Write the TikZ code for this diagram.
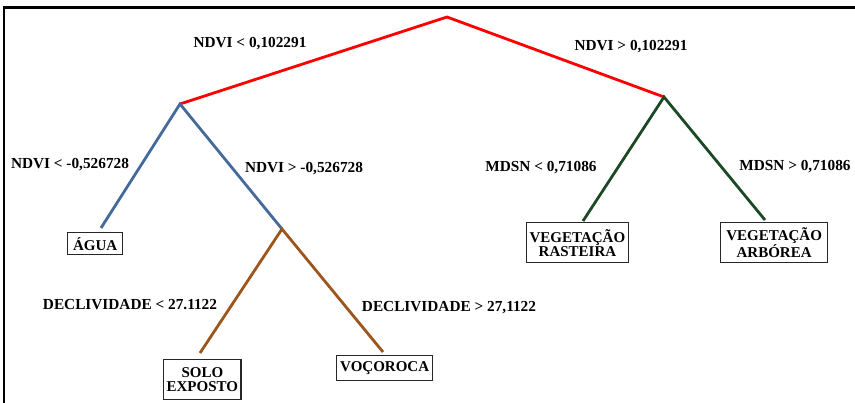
\documentclass[tikz,border=0pt]{standalone}
\usepackage{fontspec}
\setmainfont{Liberation Serif}
\begin{document}
\begin{tikzpicture}[x=1pt,y=-1pt,
  lbl/.style={font=\bfseries\fontsize{15.3}{16}\selectfont, inner sep=0pt, anchor=center},
  leaf/.style={draw=black!85, line width=1.3pt, font=\bfseries\fontsize{15}{14}\selectfont, align=center, inner xsep=3pt, inner ysep=2pt, anchor=north west},
  redl/.style={draw={rgb,255:red,255;green,0;blue,0}, line width=2.8pt},
  bluel/.style={draw={rgb,255:red,68;green,106;blue,155}, line width=2.8pt},
  brownl/.style={draw={rgb,255:red,156;green,86;blue,28}, line width=2.8pt},
  greenl/.style={draw={rgb,255:red,28;green,72;blue,36}, line width=2.8pt},
  frame/.style={draw=black, line width=2.6pt}]
\useasboundingbox (0,0) rectangle (855,403);
% frame
\coordinate (f1) at (855,7.5);
\coordinate (f2) at (4,7.5);
\coordinate (f3) at (4,403);
\draw[frame] (f1) -- (f2) -- (f3);
% split points
\coordinate (root) at (447,17);
\coordinate (nl) at (180,104);
\coordinate (nr) at (664,97);
\coordinate (nlr) at (282,229);
\coordinate (eagua) at (101,228);
\coordinate (esolo) at (200,353);
\coordinate (evoc) at (383,352);
\coordinate (eras) at (583,221);
\coordinate (earb) at (765,220);
% connectors
\draw[redl, line cap=round] (nl) -- (root) -- (nr);
\draw[bluel] (eagua) -- (nl) -- (nlr);
\draw[brownl] (esolo) -- (nlr) -- (evoc);
\draw[greenl] (eras) -- (nr) -- (earb);
% leaves
\node[leaf, minimum width=55pt, minimum height=22pt] (agua) at (67,232) {ÁGUA};
\node[leaf, minimum width=76pt, minimum height=40pt, inner ysep=1pt] (solo) at (163,359) {SOLO\\EXPOSTO};
\node[leaf, minimum width=96pt, minimum height=25pt] (voc) at (336,355) {VOÇOROCA};
\node[leaf, minimum width=101pt, minimum height=40pt, inner ysep=1pt] (ras) at (526,222) {VEGETAÇÃO\\RASTEIRA};
\node[leaf, minimum width=107pt, minimum height=40pt, inner ysep=1pt] (arb) at (720,222) {VEGETAÇÃO\\ARBÓREA};
% labels
\node[lbl] (t1) at (250,44) {NDVI < 0,102291};
\node[lbl] (t2) at (631,47) {NDVI > 0,102291};
\node[lbl] (t3) at (70,165) {NDVI < -0,526728};
\node[lbl] (t4) at (304,169) {NDVI > -0,526728};
\node[lbl] (t5) at (541,168) {MDSN < 0,71086};
\node[lbl] (t6) at (795,167) {MDSN > 0,71086};
\node[lbl] (t7) at (130,305) {DECLIVIDADE < 27.1122};
\node[lbl] (t8) at (449,308) {DECLIVIDADE > 27,1122};
\end{tikzpicture}
\end{document}
